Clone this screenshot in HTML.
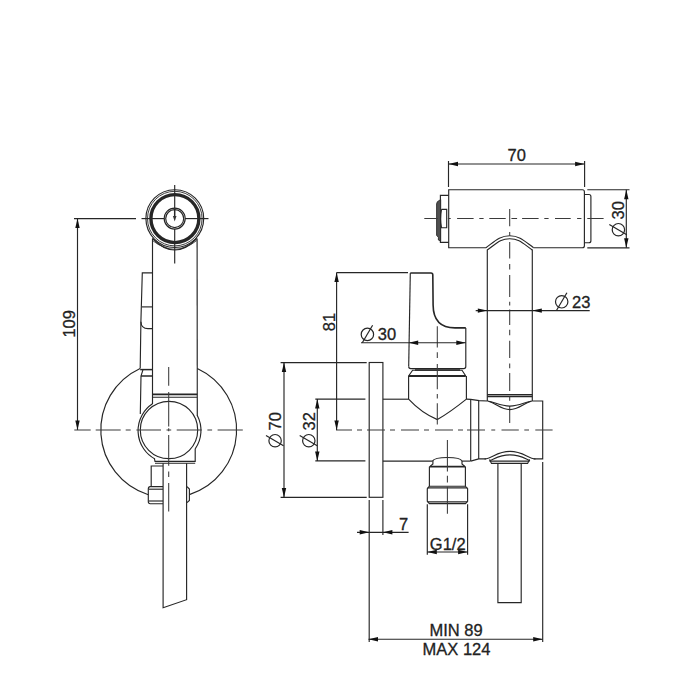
<!DOCTYPE html>
<html><head><meta charset="utf-8"><style>
html,body{margin:0;padding:0;background:#fff;width:700px;height:700px;overflow:hidden}
svg{display:block}
text{font-family:"Liberation Sans",sans-serif;fill:#222}
</style></head><body>
<svg width="700" height="700" viewBox="0 0 700 700">
<g fill="none" stroke="#262626" stroke-width="1.15">
<line x1="74" y1="218.6" x2="136" y2="218.6"/>
<line x1="77.5" y1="218.6" x2="77.5" y2="430"/>
<line x1="141.5" y1="218.6" x2="164.3" y2="218.6"/>
<line x1="185" y1="218.6" x2="208.5" y2="218.6"/>
<line x1="174.7" y1="185" x2="174.7" y2="208.2"/>
<line x1="174.7" y1="229" x2="174.7" y2="263.5"/>
<circle cx="174.8" cy="218.6" r="28.9"/>
<circle cx="174.8" cy="218.6" r="27.3" stroke-width="0.9"/>
<circle cx="174.9" cy="218.6" r="24" stroke-width="3.4"/>
<path d="M152.5 238.5 Q174.7 261.5 196.8 238.5"/>
<path d="M152.5 240.5 Q174.7 258 196.8 240.5" stroke-width="0.8"/>
<circle cx="174.7" cy="218.6" r="10.5"/>
<circle cx="174.7" cy="218.6" r="9"/>
<line x1="174.7" y1="208.5" x2="174.7" y2="217" stroke-width="1.5"/>
<polygon points="174.7,221.5 172.9,216 176.5,216" fill="#333" stroke="none"/>
<line x1="152.5" y1="238.5" x2="152.5" y2="404"/>
<line x1="197.1" y1="238.5" x2="197.3" y2="416"/>
<line x1="152.5" y1="394.3" x2="197.3" y2="394.3" stroke-width="1.8"/>
<line x1="152.5" y1="397.2" x2="197.3" y2="397.2"/>
<path d="M152.5 272.8 H142.3 L140.9 321.7 L140.2 368.6 M143 369.6 L141 376 L140.3 414"/>
<path d="M140.9 321.7 Q141.2 328.6 148 328.6 H152.5"/>
<line x1="142" y1="306.9" x2="152.5" y2="306.9"/>
<line x1="140.2" y1="369.6" x2="152.5" y2="369.6" stroke-width="1.5"/>
<line x1="141" y1="376" x2="152.5" y2="376" stroke-width="1.5"/>
<path d="M140.1 368.5 A67.8 67.8 0 0 0 148.3 494.7"/>
<path d="M197.3 368.5 A67.8 67.8 0 0 1 189.4 494.6"/>
<circle cx="169" cy="430" r="28.7"/>
<path d="M152.5 403.8 A32.2 32.2 0 0 0 155 459"/>
<path d="M197.3 415.5 A32.2 32.2 0 0 1 195.2 448.8"/>
<path d="M154.5 459 L155 461.4 H195.2 V448.8"/>
<line x1="155" y1="463.2" x2="195.2" y2="463.2"/>
<path d="M163 466 H151.2 V486.6"/>
<path d="M163 486.6 H150.2 Q148.3 486.6 148.3 489 V501.5 Q148.3 503.7 150.2 503.7 H163"/>
<line x1="148.8" y1="489.2" x2="163" y2="489.2"/>
<line x1="148.8" y1="501" x2="163" y2="501"/>
<path d="M187 486.6 L189.4 489 V500.5 L187 502.6"/>
<path d="M163.1 463.2 V607.7 L186.6 599.7 V463.2"/>
<path stroke="#3a3a3a" stroke-width="1.05" d="M74.3 430H90.7M95.7 430H120.7M125.7 430H130.7M136.4 430H161M166.5 430H171.2M176.7 430H201.9M207.4 430H212.1M217.6 430H242.8"/>
<path stroke="#3a3a3a" stroke-width="1.05" d="M168.7 367.1V385.7M168.7 392.1V426.4M168.7 428.3V431.3M168.7 435V465.7M168.7 471.4V477.1M168.7 482.9V511.4"/>
</g>
<g fill="none" stroke="#262626" stroke-width="1.15">
<line x1="448.5" y1="164" x2="584.6" y2="164"/>
<line x1="448.5" y1="161" x2="448.5" y2="187"/>
<line x1="584.6" y1="161" x2="584.6" y2="187"/>
<path d="M486 247.7 H448.7 V189.7 H582.4 Q584.4 189.7 584.4 191.7 V245.7 Q584.4 247.7 582.4 247.7 H533.6"/>
<path d="M448.7 195.4 H440.4 V242.3 H448.7"/>
<polygon points="440.7,199.5 437.3,201.8 436.6,204 436.6,235.5 438.4,237.2 438.4,240 440.7,241.2" fill="#505050" stroke="#2a2a2a" stroke-width="0.9"/>
<path d="M441.5 209.3 H446.7 V227.7 H441.5 Q439.6 218.5 441.5 209.3"/>
<path d="M584.4 194.5 H588.9 Q590.9 194.5 590.9 196.5 V240.7 Q590.9 242.7 588.9 242.7 H584.4"/>
<line x1="587.3" y1="189.7" x2="629.5" y2="189.7"/>
<line x1="587.3" y1="247.8" x2="629.5" y2="247.8"/>
<line x1="626.3" y1="189.7" x2="626.3" y2="247.8"/>
<path stroke="#3a3a3a" stroke-width="1.05" d="M424.3 218.5H437.9M447.9 218.5H450.7M457.1 218.5H473.6M479.3 218.5H483.6M489.3 218.5H505.7M511.4 218.5H517.1M522.1 218.5H538.6M544.3 218.5H548.6M555 218.5H570.7M577.1 218.5H581.4M587.3 218.5H603.6"/>
<path d="M486 247.7 C495 241 500 235.7 509.8 235.7 S524.5 241 533.6 247.7"/>
<path d="M487.3 250 C496 244 500 238.7 509.8 238.7 S523.5 244 532.3 250"/>
<line x1="487.3" y1="249.5" x2="487.3" y2="401"/>
<line x1="532.3" y1="249.5" x2="532.3" y2="401"/>
<line x1="487.3" y1="394.8" x2="532.3" y2="394.8" stroke-width="1.5"/>
<line x1="487.3" y1="396.6" x2="532.3" y2="396.6"/>
<path stroke="#3a3a3a" stroke-width="1.05" d="M509.7 208.9V226.2M509.7 232V235.7M509.7 242.1V258.5M509.7 264V269.5M509.7 275V297M509.7 301.7V305.6M509.7 309.6V324.9M509.7 329.7V335.2M509.7 340.7V358M509.7 363.5V368.2M509.7 372.9V391M509.7 396.6V400.7M509.7 406V423"/>
<line x1="475.7" y1="310.6" x2="589.7" y2="310.6"/>
<path d="M487.3 401 C495 402 500 406.1 509.8 406.1 C519.6 406.1 524.6 402 532.3 401"/>
<path d="M488.5 401.3 C497 404 501 409.6 509.8 409.6 C518.6 409.6 522.6 404 531.1 401.3"/>
<path d="M466.4 399.1 L470.7 399.4 L479.2 400.6 L487.3 401 M532.3 401 H542.7 V458.9 H533.6"/>
<path d="M486.1 458.9 H478.7 L470.7 461.1"/>
<line x1="470.7" y1="400" x2="470.7" y2="461.1"/>
<line x1="478.7" y1="401" x2="478.7" y2="458.9"/>
<path d="M484.5 459 C492 458.5 497 451.4 510 451.4 C523 451.4 528 458.5 535.5 459"/>
<path d="M490 460.5 C496 458 500 454.9 510 454.9 C520 454.9 524 458 530 460.5"/>
<path d="M489.5 459.5 L491.5 463.4 H527.6 L529.6 459.5"/>
<line x1="489.5" y1="461.1" x2="529.6" y2="461.1"/>
<path d="M497.9 463.4 V602.6 H521.2 V463.4"/>
<line x1="542.7" y1="462" x2="542.7" y2="642"/>
<path d="M408.7 366.6 L410.3 273"/>
<path d="M410.3 273 H431 Q432.8 273 432.8 275 L433.1 305 Q433.3 327.9 455 327.9 H465.8" stroke-width="1.6"/>
<path d="M465.8 327.9 V366.6 Q465.8 368.6 463.8 368.6 H410.7 Q408.7 368.6 408.7 366.6"/>
<path d="M408.6 376 L412.6 370.2 H462 L465.8 376"/>
<line x1="415" y1="370" x2="460" y2="370" stroke-width="1.4"/>
<line x1="408.6" y1="376" x2="465.8" y2="376" stroke-width="1.8"/>
<path d="M408.6 376 V399.2 Q422 413.5 437.4 419.6 Q451 411.5 466.4 399.1 V376"/>
<rect x="369.2" y="362.5" width="13.7" height="134.8"/>
<line x1="382.9" y1="399.2" x2="408.6" y2="399.2"/>
<line x1="382.9" y1="461.1" x2="432.4" y2="461.1"/>
<path d="M462 461.1 H470.6"/>
<path d="M432.4 461.1 C434 458.5 440 457.5 447.4 457.5 C455 457.5 461 458.5 462 461.1"/>
<path d="M432.9 461.1 V464 L429.4 467 V486 M462 461.1 V464 L465.4 467 V486"/>
<line x1="430" y1="466.7" x2="465" y2="466.7" stroke-width="1.8"/>
<path d="M429.4 486.2 L427.3 488.6 V501.3 L429.4 503.6 H465.5 L467.6 501.3 V488.6 L465.4 486.2 Z"/>
<line x1="427.6" y1="487.8" x2="467.3" y2="487.8"/>
<line x1="427.6" y1="501.8" x2="467.3" y2="501.8"/>
<path stroke="#3a3a3a" stroke-width="1.05" d="M447.4 440V471.4M447.4 475.7V482.6M447.4 486.8V513.7"/>
<path stroke="#3a3a3a" stroke-width="1.05" d="M336 430H352M357 430H362M367 430H385M390 430H395M401 430H419M424 430H429M435 430H453M458 430H463M467 430H485M491.3 430H495.2M501.5 430H518.8M524.3 430H529M535.3 430H552.6"/>
<path stroke="#3a3a3a" stroke-width="1.05" d="M437.3 326.3V347.5M437.3 352.2V358M437.3 364V389.2M437.3 393.9V398.6M437.3 403.3V424.6"/>
<line x1="336.6" y1="272.6" x2="408" y2="272.6"/>
<line x1="336.6" y1="272.6" x2="336.6" y2="430"/>
<line x1="361" y1="342.7" x2="465.8" y2="342.7"/>
<line x1="280.6" y1="362.6" x2="366.7" y2="362.6"/>
<line x1="280.6" y1="497.4" x2="366.7" y2="497.4"/>
<line x1="284" y1="362.6" x2="284" y2="497.4"/>
<line x1="315.3" y1="399.1" x2="365.4" y2="399.1"/>
<line x1="315.3" y1="460.9" x2="365.4" y2="460.9"/>
<line x1="317.3" y1="399.1" x2="317.3" y2="460.9"/>
<line x1="369.2" y1="500" x2="369.2" y2="642"/>
<line x1="382.9" y1="500" x2="382.9" y2="535"/>
<line x1="357" y1="532.3" x2="408.6" y2="532.3"/>
<line x1="427.3" y1="504.3" x2="427.3" y2="554.8"/>
<line x1="467.6" y1="504.3" x2="467.6" y2="554.8"/>
<line x1="427.3" y1="552" x2="467.6" y2="552"/>
<line x1="368.5" y1="639.2" x2="542.7" y2="639.2"/>
</g>
<g fill="#111" stroke="none">
<polygon points="77.5,218.6 75.3,228.1 79.7,228.1"/>
<polygon points="77.5,430.0 75.3,420.5 79.7,420.5"/>
<polygon points="448.5,164.0 458.0,161.8 458.0,166.2"/>
<polygon points="584.6,164.0 575.1,161.8 575.1,166.2"/>
<polygon points="626.3,189.7 624.1,199.2 628.5,199.2"/>
<polygon points="626.3,247.8 624.1,238.3 628.5,238.3"/>
<polygon points="487.3,310.6 477.8,308.4 477.8,312.8"/>
<polygon points="532.3,310.6 541.8,308.4 541.8,312.8"/>
<polygon points="336.6,272.6 334.4,282.1 338.8,282.1"/>
<polygon points="336.6,430.0 334.4,420.5 338.8,420.5"/>
<polygon points="408.7,342.7 418.2,340.5 418.2,344.9"/>
<polygon points="465.8,342.7 456.3,340.5 456.3,344.9"/>
<polygon points="284.0,362.6 281.8,372.1 286.2,372.1"/>
<polygon points="284.0,497.4 281.8,487.9 286.2,487.9"/>
<polygon points="317.3,399.1 315.1,408.6 319.5,408.6"/>
<polygon points="317.3,460.9 315.1,451.4 319.5,451.4"/>
<polygon points="369.2,532.3 359.7,530.1 359.7,534.5"/>
<polygon points="382.9,532.3 392.4,530.1 392.4,534.5"/>
<polygon points="427.3,552.0 436.8,549.8 436.8,554.2"/>
<polygon points="467.6,552.0 458.1,549.8 458.1,554.2"/>
<polygon points="368.5,639.2 378.0,637.0 378.0,641.4"/>
<polygon points="542.7,639.2 533.2,637.0 533.2,641.4"/>
</g>
<g font-size="16.5">
<text x="516.8" y="161.4" text-anchor="middle" stroke="#222" stroke-width="0.3">70</text>
<text transform="translate(75,337.6) rotate(-90)" stroke="#222" stroke-width="0.3">109</text>
<text transform="translate(334.5,331.3) rotate(-90)" stroke="#222" stroke-width="0.3">81</text>
<text x="399" y="529.6" stroke="#222" stroke-width="0.3">7</text>
<text x="447.7" y="549.6" text-anchor="middle" stroke="#222" stroke-width="0.3">G1/2</text>
<text x="456" y="636.2" text-anchor="middle" stroke="#222" stroke-width="0.3">MIN 89</text>
<text x="456.5" y="654.5" text-anchor="middle" stroke="#222" stroke-width="0.3">MAX 124</text>
<g transform="translate(377.7,340.3)"><text x="0" y="0" stroke="#222" stroke-width="0.3">30</text><circle cx="-10.3" cy="-5.9" r="6.2" fill="none" stroke="#262626" stroke-width="1.2"/><line x1="-15.4" y1="2.5" x2="-5.1" y2="-15" stroke="#262626" stroke-width="1.2"/></g>
<g transform="translate(572,307.7)"><text x="0" y="0" stroke="#222" stroke-width="0.3">23</text><circle cx="-10.3" cy="-5.9" r="6.2" fill="none" stroke="#262626" stroke-width="1.2"/><line x1="-15.4" y1="2.5" x2="-5.1" y2="-15" stroke="#262626" stroke-width="1.2"/></g>
<g transform="translate(624.3,219.4) rotate(-90)"><text x="0" y="0" stroke="#222" stroke-width="0.3">30</text><circle cx="-10.3" cy="-5.9" r="6.2" fill="none" stroke="#262626" stroke-width="1.2"/><line x1="-15.4" y1="2.5" x2="-5.1" y2="-15" stroke="#262626" stroke-width="1.2"/></g>
<g transform="translate(281,430.4) rotate(-90)"><text x="0" y="0" stroke="#222" stroke-width="0.3">70</text><circle cx="-10.3" cy="-5.9" r="6.2" fill="none" stroke="#262626" stroke-width="1.2"/><line x1="-15.4" y1="2.5" x2="-5.1" y2="-15" stroke="#262626" stroke-width="1.2"/></g>
<g transform="translate(314.7,430.4) rotate(-90)"><text x="0" y="0" stroke="#222" stroke-width="0.3">32</text><circle cx="-10.3" cy="-5.9" r="6.2" fill="none" stroke="#262626" stroke-width="1.2"/><line x1="-15.4" y1="2.5" x2="-5.1" y2="-15" stroke="#262626" stroke-width="1.2"/></g>
</g>
</svg>
</body></html>
